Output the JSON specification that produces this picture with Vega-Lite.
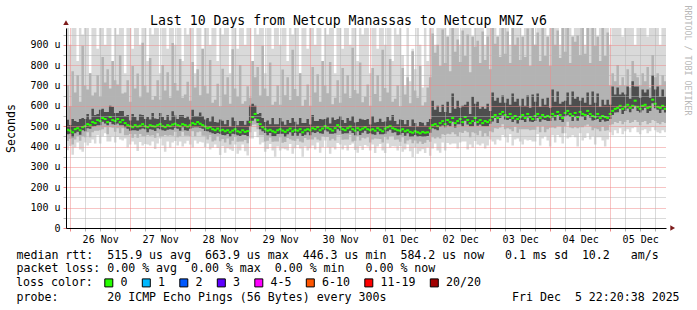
{
"$schema":"https://vega.github.io/schema/vega-lite/v6.json",
"width":600,"height":200,
"autosize":{"type":"none"},
"padding":{"left":66,"top":28,"right":31,"bottom":82},
"background":"#ffffff",
"config":{"view":{"stroke":null},"font":"DejaVu Sans Mono"},
"data":{"values":[
{"h":-2,"m":475,"a":390,"b":430,"c":457,"e":510,"u":625,"d":982},
{"h":-1,"m":482,"a":382,"b":427,"c":460,"e":532,"u":702,"d":982},
{"h":0,"m":478,"a":403,"b":438,"c":463,"e":506,"u":598,"d":900},
{"h":1,"m":470,"a":360,"b":410,"c":445,"e":535,"u":770,"d":982},
{"h":2,"m":485,"a":395,"b":435,"c":465,"e":525,"u":665,"d":982},
{"h":3,"m":490,"a":420,"b":452,"c":472,"e":520,"u":750,"d":820},
{"h":4,"m":480,"a":385,"b":428,"c":458,"e":535,"u":620,"d":982},
{"h":5,"m":495,"a":375,"b":450,"c":480,"e":540,"u":895,"d":950},
{"h":6,"m":500,"a":420,"b":445,"c":475,"e":535,"u":700,"d":982},
{"h":7,"m":510,"a":405,"b":470,"c":490,"e":560,"u":680,"d":982},
{"h":8,"m":505,"a":417,"b":445,"c":487,"e":533,"u":760,"d":760},
{"h":9,"m":520,"a":435,"b":470,"c":498,"e":585,"u":650,"d":982},
{"h":10,"m":515,"a":415,"b":477,"c":500,"e":555,"u":665,"d":982},
{"h":11,"m":530,"a":455,"b":478,"c":505,"e":560,"u":750,"d":880},
{"h":12,"m":525,"a":415,"b":480,"c":505,"e":580,"u":645,"d":982},
{"h":13,"m":540,"a":450,"b":485,"c":522,"e":585,"u":840,"d":982},
{"h":14,"m":535,"a":465,"b":495,"c":513,"e":570,"u":715,"d":900},
{"h":15,"m":520,"a":425,"b":460,"c":505,"e":570,"u":780,"d":982},
{"h":16,"m":545,"a":425,"b":495,"c":520,"e":600,"u":685,"d":982},
{"h":17,"m":530,"a":450,"b":492,"c":510,"e":595,"u":820,"d":820},
{"h":18,"m":525,"a":420,"b":473,"c":507,"e":565,"u":725,"d":982},
{"h":19,"m":535,"a":447,"b":490,"c":513,"e":565,"u":705,"d":950},
{"h":20,"m":520,"a":435,"b":465,"c":505,"e":575,"u":850,"d":982},
{"h":21,"m":530,"a":430,"b":490,"c":505,"e":575,"u":660,"d":982},
{"h":22,"m":515,"a":440,"b":455,"c":495,"e":550,"u":665,"d":760},
{"h":23,"m":505,"a":395,"b":455,"c":487,"e":555,"u":725,"d":982},
{"h":24,"m":500,"a":410,"b":462,"c":478,"e":528,"u":620,"d":982},
{"h":25,"m":495,"a":425,"b":443,"c":480,"e":560,"u":795,"d":880},
{"h":26,"m":505,"a":410,"b":460,"c":480,"e":545,"u":685,"d":982},
{"h":27,"m":498,"a":378,"b":443,"c":478,"e":528,"u":758,"d":982},
{"h":28,"m":502,"a":422,"b":462,"c":484,"e":557,"u":642,"d":900},
{"h":29,"m":510,"a":405,"b":450,"c":488,"e":555,"u":910,"d":982},
{"h":30,"m":500,"a":412,"b":450,"c":485,"e":535,"u":700,"d":982},
{"h":31,"m":495,"a":410,"b":457,"c":470,"e":545,"u":665,"d":820},
{"h":32,"m":505,"a":405,"b":453,"c":485,"e":533,"u":835,"d":982},
{"h":33,"m":500,"a":425,"b":455,"c":482,"e":565,"u":630,"d":950},
{"h":34,"m":498,"a":388,"b":443,"c":476,"e":538,"u":648,"d":982},
{"h":35,"m":505,"a":415,"b":465,"c":490,"e":535,"u":725,"d":982},
{"h":36,"m":510,"a":440,"b":450,"c":485,"e":565,"u":630,"d":760},
{"h":37,"m":500,"a":405,"b":450,"c":480,"e":545,"u":800,"d":982},
{"h":38,"m":495,"a":375,"b":457,"c":477,"e":530,"u":675,"d":982},
{"h":39,"m":505,"a":425,"b":453,"c":483,"e":555,"u":765,"d":880},
{"h":40,"m":500,"a":395,"b":455,"c":485,"e":528,"u":640,"d":982},
{"h":41,"m":508,"a":420,"b":453,"c":483,"e":573,"u":908,"d":982},
{"h":42,"m":512,"a":427,"b":472,"c":492,"e":552,"u":712,"d":900},
{"h":43,"m":505,"a":405,"b":445,"c":487,"e":535,"u":675,"d":982},
{"h":44,"m":500,"a":425,"b":450,"c":478,"e":555,"u":830,"d":982},
{"h":45,"m":510,"a":400,"b":472,"c":495,"e":555,"u":640,"d":820},
{"h":46,"m":505,"a":415,"b":453,"c":480,"e":540,"u":655,"d":982},
{"h":47,"m":498,"a":428,"b":453,"c":478,"e":548,"u":718,"d":950},
{"h":48,"m":505,"a":410,"b":450,"c":487,"e":533,"u":625,"d":982},
{"h":49,"m":515,"a":395,"b":475,"c":493,"e":580,"u":815,"d":982},
{"h":50,"m":510,"a":430,"b":450,"c":495,"e":550,"u":690,"d":760},
{"h":51,"m":520,"a":415,"b":470,"c":495,"e":550,"u":780,"d":982},
{"h":52,"m":512,"a":424,"b":474,"c":492,"e":567,"u":652,"d":982},
{"h":53,"m":505,"a":420,"b":453,"c":487,"e":550,"u":880,"d":880},
{"h":54,"m":498,"a":398,"b":453,"c":476,"e":533,"u":698,"d":982},
{"h":55,"m":490,"a":415,"b":435,"c":475,"e":540,"u":660,"d":982},
{"h":56,"m":495,"a":385,"b":455,"c":470,"e":523,"u":825,"d":900},
{"h":57,"m":485,"a":395,"b":425,"c":465,"e":550,"u":615,"d":982},
{"h":58,"m":480,"a":410,"b":430,"c":462,"e":520,"u":630,"d":982},
{"h":59,"m":488,"a":393,"b":450,"c":466,"e":518,"u":708,"d":820},
{"h":60,"m":478,"a":358,"b":426,"c":463,"e":533,"u":598,"d":982},
{"h":61,"m":482,"a":402,"b":437,"c":457,"e":527,"u":782,"d":950},
{"h":62,"m":475,"a":370,"b":420,"c":455,"e":510,"u":655,"d":982},
{"h":63,"m":480,"a":392,"b":440,"c":462,"e":530,"u":740,"d":982},
{"h":64,"m":470,"a":385,"b":410,"c":448,"e":498,"u":610,"d":760},
{"h":65,"m":478,"a":378,"b":428,"c":463,"e":543,"u":878,"d":982},
{"h":66,"m":485,"a":410,"b":447,"c":460,"e":525,"u":685,"d":982},
{"h":67,"m":475,"a":365,"b":423,"c":455,"e":505,"u":645,"d":880},
{"h":68,"m":470,"a":380,"b":425,"c":452,"e":525,"u":800,"d":982},
{"h":69,"m":480,"a":410,"b":425,"c":458,"e":525,"u":610,"d":982},
{"h":70,"m":472,"a":377,"b":432,"c":457,"e":507,"u":622,"d":900},
{"h":71,"m":476,"a":356,"b":416,"c":451,"e":526,"u":696,"d":982},
{"h":72,"m":520,"a":440,"b":470,"c":500,"e":600,"u":640,"d":982},
{"h":73,"m":545,"a":440,"b":507,"c":527,"e":610,"u":820,"d":820},
{"h":74,"m":560,"a":472,"b":508,"c":538,"e":600,"u":740,"d":982},
{"h":75,"m":530,"a":445,"b":485,"c":515,"e":560,"u":790,"d":950},
{"h":76,"m":510,"a":410,"b":455,"c":485,"e":565,"u":650,"d":982},
{"h":77,"m":495,"a":420,"b":455,"c":475,"e":540,"u":895,"d":982},
{"h":78,"m":485,"a":375,"b":425,"c":467,"e":520,"u":685,"d":760},
{"h":79,"m":478,"a":388,"b":428,"c":456,"e":528,"u":648,"d":982},
{"h":80,"m":482,"a":412,"b":444,"c":467,"e":510,"u":812,"d":982},
{"h":81,"m":475,"a":380,"b":423,"c":450,"e":540,"u":605,"d":880},
{"h":82,"m":470,"a":350,"b":425,"c":450,"e":510,"u":620,"d":982},
{"h":83,"m":480,"a":400,"b":425,"c":462,"e":510,"u":700,"d":982},
{"h":84,"m":485,"a":380,"b":445,"c":463,"e":540,"u":605,"d":900},
{"h":85,"m":478,"a":390,"b":418,"c":463,"e":523,"u":778,"d":982},
{"h":86,"m":472,"a":387,"b":422,"c":447,"e":507,"u":652,"d":982},
{"h":87,"m":480,"a":380,"b":442,"c":460,"e":530,"u":740,"d":820},
{"h":88,"m":488,"a":413,"b":436,"c":470,"e":516,"u":628,"d":982},
{"h":89,"m":475,"a":365,"b":430,"c":453,"e":540,"u":875,"d":950},
{"h":90,"m":482,"a":392,"b":427,"c":467,"e":522,"u":682,"d":982},
{"h":91,"m":478,"a":408,"b":438,"c":453,"e":508,"u":648,"d":982},
{"h":92,"m":485,"a":390,"b":425,"c":465,"e":540,"u":760,"d":760},
{"h":93,"m":470,"a":350,"b":420,"c":452,"e":515,"u":600,"d":982},
{"h":94,"m":480,"a":400,"b":442,"c":458,"e":515,"u":630,"d":982},
{"h":95,"m":485,"a":380,"b":433,"c":470,"e":535,"u":705,"d":880},
{"h":96,"m":480,"a":392,"b":435,"c":455,"e":508,"u":600,"d":982},
{"h":97,"m":490,"a":405,"b":435,"c":470,"e":555,"u":790,"d":982},
{"h":98,"m":485,"a":385,"b":445,"c":467,"e":525,"u":665,"d":900},
{"h":99,"m":495,"a":420,"b":435,"c":473,"e":525,"u":755,"d":982},
{"h":100,"m":480,"a":370,"b":430,"c":465,"e":535,"u":620,"d":982},
{"h":101,"m":488,"a":398,"b":450,"c":463,"e":533,"u":820,"d":820},
{"h":102,"m":500,"a":430,"b":448,"c":480,"e":535,"u":700,"d":982},
{"h":103,"m":492,"a":397,"b":447,"c":474,"e":542,"u":662,"d":950},
{"h":104,"m":485,"a":365,"b":430,"c":463,"e":513,"u":815,"d":982},
{"h":105,"m":478,"a":398,"b":438,"c":463,"e":543,"u":608,"d":982},
{"h":106,"m":490,"a":385,"b":430,"c":465,"e":530,"u":640,"d":760},
{"h":107,"m":505,"a":417,"b":455,"c":485,"e":535,"u":725,"d":982},
{"h":108,"m":495,"a":410,"b":457,"c":477,"e":550,"u":615,"d":982},
{"h":109,"m":485,"a":385,"b":433,"c":463,"e":530,"u":785,"d":880},
{"h":110,"m":480,"a":405,"b":435,"c":465,"e":515,"u":660,"d":982},
{"h":111,"m":490,"a":380,"b":435,"c":465,"e":540,"u":750,"d":982},
{"h":112,"m":498,"a":408,"b":458,"c":478,"e":526,"u":638,"d":900},
{"h":113,"m":485,"a":415,"b":425,"c":467,"e":550,"u":885,"d":982},
{"h":114,"m":478,"a":383,"b":428,"c":456,"e":518,"u":678,"d":982},
{"h":115,"m":490,"a":370,"b":452,"c":475,"e":520,"u":660,"d":820},
{"h":116,"m":482,"a":402,"b":430,"c":457,"e":537,"u":812,"d":982},
{"h":117,"m":488,"a":383,"b":443,"c":468,"e":533,"u":618,"d":950},
{"h":118,"m":495,"a":407,"b":440,"c":477,"e":530,"u":645,"d":982},
{"h":119,"m":485,"a":400,"b":445,"c":463,"e":535,"u":705,"d":982},
{"h":120,"m":480,"a":380,"b":420,"c":465,"e":508,"u":600,"d":760},
{"h":121,"m":485,"a":410,"b":435,"c":460,"e":550,"u":785,"d":982},
{"h":122,"m":478,"a":368,"b":440,"c":458,"e":518,"u":658,"d":982},
{"h":123,"m":490,"a":400,"b":438,"c":472,"e":520,"u":750,"d":880},
{"h":124,"m":482,"a":412,"b":437,"c":460,"e":537,"u":622,"d":982},
{"h":125,"m":475,"a":380,"b":420,"c":460,"e":520,"u":875,"d":982},
{"h":126,"m":488,"a":368,"b":448,"c":463,"e":523,"u":688,"d":900},
{"h":127,"m":495,"a":415,"b":435,"c":475,"e":545,"u":665,"d":982},
{"h":128,"m":500,"a":395,"b":450,"c":482,"e":528,"u":830,"d":982},
{"h":129,"m":490,"a":402,"b":452,"c":468,"e":555,"u":620,"d":820},
{"h":130,"m":485,"a":400,"b":433,"c":470,"e":525,"u":635,"d":982},
{"h":131,"m":480,"a":380,"b":435,"c":455,"e":510,"u":700,"d":950},
{"h":132,"m":478,"a":403,"b":423,"c":458,"e":533,"u":598,"d":982},
{"h":133,"m":485,"a":375,"b":445,"c":467,"e":530,"u":785,"d":850},
{"h":134,"m":475,"a":385,"b":415,"c":453,"e":510,"u":655,"d":700},
{"h":135,"m":480,"a":410,"b":430,"c":465,"e":530,"u":740,"d":982},
{"h":136,"m":472,"a":377,"b":434,"c":447,"e":500,"u":612,"d":720},
{"h":137,"m":468,"a":348,"b":416,"c":448,"e":533,"u":868,"d":880},
{"h":138,"m":475,"a":395,"b":430,"c":457,"e":515,"u":675,"d":780},
{"h":139,"m":470,"a":365,"b":415,"c":448,"e":500,"u":640,"d":982},
{"h":140,"m":465,"a":377,"b":425,"c":450,"e":520,"u":795,"d":900},
{"h":141,"m":472,"a":387,"b":412,"c":447,"e":517,"u":602,"d":690},
{"h":142,"m":468,"a":368,"b":418,"c":448,"e":503,"u":618,"d":982},
{"h":143,"m":470,"a":395,"b":432,"c":452,"e":520,"u":690,"d":820},
{"h":144,"m":490,"a":355,"b":423,"c":468,"e":535,"u":740,"d":982},
{"h":145,"m":505,"a":390,"b":445,"c":490,"e":625,"u":955,"d":982},
{"h":146,"m":510,"a":415,"b":440,"c":485,"e":580,"u":860,"d":900},
{"h":147,"m":500,"a":380,"b":445,"c":480,"e":600,"u":900,"d":982},
{"h":148,"m":515,"a":370,"b":440,"c":497,"e":570,"u":795,"d":982},
{"h":149,"m":525,"a":420,"b":460,"c":503,"e":605,"u":975,"d":982},
{"h":150,"m":510,"a":380,"b":457,"c":495,"e":570,"u":810,"d":982},
{"h":151,"m":530,"a":417,"b":463,"c":505,"e":620,"u":940,"d":940},
{"h":152,"m":520,"a":410,"b":460,"c":500,"e":565,"u":770,"d":982},
{"h":153,"m":540,"a":415,"b":470,"c":522,"e":660,"u":982,"d":982},
{"h":154,"m":515,"a":415,"b":460,"c":493,"e":585,"u":865,"d":982},
{"h":155,"m":525,"a":390,"b":450,"c":510,"e":625,"u":925,"d":982},
{"h":156,"m":535,"a":420,"b":470,"c":510,"e":590,"u":815,"d":900},
{"h":157,"m":520,"a":425,"b":467,"c":500,"e":600,"u":970,"d":982},
{"h":158,"m":545,"a":425,"b":478,"c":527,"e":605,"u":845,"d":982},
{"h":159,"m":530,"a":385,"b":470,"c":508,"e":620,"u":950,"d":982},
{"h":160,"m":515,"a":410,"b":445,"c":500,"e":560,"u":765,"d":982},
{"h":161,"m":525,"a":395,"b":470,"c":500,"e":645,"u":940,"d":940},
{"h":162,"m":540,"a":427,"b":465,"c":520,"e":610,"u":890,"d":982},
{"h":163,"m":520,"a":410,"b":455,"c":502,"e":620,"u":920,"d":982},
{"h":164,"m":530,"a":405,"b":477,"c":508,"e":585,"u":810,"d":982},
{"h":165,"m":515,"a":415,"b":448,"c":500,"e":595,"u":965,"d":982},
{"h":166,"m":525,"a":390,"b":465,"c":500,"e":585,"u":825,"d":900},
{"h":167,"m":520,"a":405,"b":450,"c":500,"e":610,"u":940,"d":982},
{"h":168,"m":530,"a":435,"b":475,"c":512,"e":575,"u":780,"d":982},
{"h":169,"m":545,"a":425,"b":470,"c":523,"e":665,"u":982,"d":982},
{"h":170,"m":555,"a":410,"b":490,"c":540,"e":625,"u":905,"d":982},
{"h":171,"m":540,"a":435,"b":487,"c":515,"e":640,"u":940,"d":940},
{"h":172,"m":560,"a":430,"b":493,"c":540,"e":615,"u":840,"d":982},
{"h":173,"m":570,"a":457,"b":510,"c":552,"e":650,"u":982,"d":982},
{"h":174,"m":555,"a":445,"b":485,"c":533,"e":615,"u":855,"d":982},
{"h":175,"m":545,"a":420,"b":490,"c":530,"e":635,"u":965,"d":982},
{"h":176,"m":560,"a":460,"b":485,"c":535,"e":605,"u":810,"d":900},
{"h":177,"m":540,"a":405,"b":475,"c":520,"e":660,"u":982,"d":982},
{"h":178,"m":550,"a":435,"b":497,"c":532,"e":620,"u":900,"d":982},
{"h":179,"m":535,"a":440,"b":468,"c":513,"e":635,"u":935,"d":982},
{"h":180,"m":545,"a":425,"b":485,"c":530,"e":600,"u":825,"d":982},
{"h":181,"m":555,"a":410,"b":485,"c":530,"e":635,"u":940,"d":940},
{"h":182,"m":540,"a":435,"b":485,"c":520,"e":600,"u":840,"d":982},
{"h":183,"m":560,"a":430,"b":485,"c":542,"e":650,"u":980,"d":982},
{"h":184,"m":545,"a":432,"b":480,"c":523,"e":590,"u":795,"d":982},
{"h":185,"m":535,"a":425,"b":482,"c":520,"e":655,"u":982,"d":982},
{"h":186,"m":550,"a":425,"b":483,"c":525,"e":620,"u":900,"d":900},
{"h":187,"m":560,"a":460,"b":500,"c":540,"e":660,"u":960,"d":982},
{"h":188,"m":540,"a":405,"b":470,"c":522,"e":595,"u":820,"d":982},
{"h":189,"m":555,"a":440,"b":500,"c":533,"e":635,"u":982,"d":982},
{"h":190,"m":545,"a":450,"b":470,"c":530,"e":605,"u":845,"d":982},
{"h":191,"m":550,"a":430,"b":485,"c":525,"e":640,"u":940,"d":940},
{"h":192,"m":545,"a":400,"b":492,"c":525,"e":590,"u":795,"d":982},
{"h":193,"m":560,"a":455,"b":493,"c":542,"e":680,"u":982,"d":982},
{"h":194,"m":550,"a":420,"b":490,"c":528,"e":620,"u":900,"d":982},
{"h":195,"m":570,"a":457,"b":500,"c":555,"e":670,"u":970,"d":982},
{"h":196,"m":555,"a":445,"b":500,"c":530,"e":610,"u":835,"d":900},
{"h":197,"m":540,"a":415,"b":465,"c":520,"e":620,"u":982,"d":982},
{"h":198,"m":565,"a":465,"b":500,"c":547,"e":625,"u":865,"d":982},
{"h":199,"m":575,"a":440,"b":522,"c":553,"e":665,"u":982,"d":982},
{"h":200,"m":560,"a":445,"b":493,"c":545,"e":605,"u":810,"d":982},
{"h":201,"m":550,"a":455,"b":490,"c":525,"e":670,"u":940,"d":940},
{"h":202,"m":565,"a":445,"b":495,"c":545,"e":635,"u":915,"d":982},
{"h":203,"m":545,"a":400,"b":490,"c":527,"e":645,"u":945,"d":982},
{"h":204,"m":570,"a":465,"b":495,"c":548,"e":625,"u":850,"d":982},
{"h":205,"m":560,"a":430,"b":495,"c":545,"e":640,"u":982,"d":982},
{"h":206,"m":555,"a":442,"b":502,"c":530,"e":615,"u":855,"d":900},
{"h":207,"m":575,"a":465,"b":508,"c":555,"e":665,"u":982,"d":982},
{"h":208,"m":560,"a":435,"b":500,"c":542,"e":605,"u":810,"d":982},
{"h":209,"m":550,"a":450,"b":480,"c":528,"e":670,"u":982,"d":982},
{"h":210,"m":545,"a":410,"b":490,"c":530,"e":615,"u":895,"d":982},
{"h":211,"m":560,"a":445,"b":485,"c":535,"e":660,"u":940,"d":940},
{"h":212,"m":540,"a":445,"b":475,"c":520,"e":595,"u":820,"d":982},
{"h":213,"m":550,"a":430,"b":497,"c":532,"e":630,"u":982,"d":982},
{"h":214,"m":545,"a":400,"b":478,"c":523,"e":605,"u":845,"d":982},
{"h":215,"m":540,"a":435,"b":480,"c":525,"e":630,"u":960,"d":982},
{"h":216,"m":560,"a":470,"b":505,"c":535,"e":605,"u":700,"d":900},
{"h":217,"m":575,"a":455,"b":510,"c":555,"e":695,"u":760,"d":982},
{"h":218,"m":585,"a":480,"b":520,"c":567,"e":655,"u":720,"d":982},
{"h":219,"m":590,"a":465,"b":515,"c":568,"e":690,"u":800,"d":982},
{"h":220,"m":600,"a":490,"b":525,"c":585,"e":655,"u":700,"d":982},
{"h":221,"m":585,"a":460,"b":510,"c":560,"e":665,"u":740,"d":940},
{"h":222,"m":595,"a":475,"b":520,"c":575,"e":655,"u":700,"d":982},
{"h":223,"m":605,"a":485,"b":530,"c":587,"e":695,"u":780,"d":982},
{"h":224,"m":590,"a":470,"b":515,"c":568,"e":635,"u":690,"d":982},
{"h":225,"m":600,"a":490,"b":520,"c":585,"e":720,"u":820,"d":982},
{"h":226,"m":625,"a":495,"b":530,"c":600,"e":695,"u":760,"d":900},
{"h":227,"m":595,"a":470,"b":520,"c":575,"e":695,"u":740,"d":982},
{"h":228,"m":585,"a":460,"b":505,"c":567,"e":640,"u":700,"d":982},
{"h":229,"m":600,"a":480,"b":520,"c":578,"e":680,"u":760,"d":982},
{"h":230,"m":605,"a":485,"b":525,"c":590,"e":665,"u":720,"d":982},
{"h":231,"m":590,"a":465,"b":510,"c":565,"e":680,"u":790,"d":940},
{"h":232,"m":595,"a":475,"b":515,"c":575,"e":640,"u":690,"d":982},
{"h":233,"m":630,"a":495,"b":530,"c":612,"e":750,"u":850,"d":982},
{"h":234,"m":610,"a":480,"b":525,"c":588,"e":680,"u":740,"d":982},
{"h":235,"m":595,"a":470,"b":515,"c":580,"e":695,"u":760,"d":982},
{"h":236,"m":590,"a":465,"b":510,"c":565,"e":645,"u":700,"d":900},
{"h":237,"m":600,"a":480,"b":520,"c":580,"e":680,"u":750,"d":982},
{"h":238,"m":585,"a":470,"b":515,"c":567,"e":645,"u":720,"d":982},
{"h":239,"m":584,"a":470,"b":515,"c":562,"e":674,"u":760,"d":982}
]},
"resolve":{"axis":{"x":"independent","y":"independent"}},
"layer":[
{"mark":{"type":"area","interpolate":"step","color":"#d9d9d9","clip":true},
 "encoding":{
  "x":{"field":"h","type":"quantitative","scale":{"domain":[-1.67,238.33],"nice":false,"zero":false},
   "axis":{"values":[0,6,12,18,24,30,36,42,48,54,60,66,72,78,84,90,96,102,108,114,120,126,132,138,144,150,156,162,168,174,180,186,192,198,204,210,216,222,228,234],
    "labelExpr":"datum.value % 24 == 12 ? (datum.value < 120 ? (26 + floor(datum.value / 24)) + ' Nov' : '0' + (floor(datum.value / 24) - 4) + ' Dec') : ''",
    "labelFont":"DejaVu Sans Mono","labelFontSize":10,"labelColor":"#000000","labelPadding":3,"labelOverlap":false,"labelBound":false,"labelFlush":false,
    "tickSize":3,"tickColor":{"condition":{"test":"datum.value % 24 == 0","value":"#ee8888"},"value":"#b4b4b4"},
    "grid":true,"gridColor":{"condition":{"test":"datum.value % 24 == 0","value":"#ee8888"},"value":"#b4b4b4"},"gridDash":[1,1],"gridOpacity":1,"gridWidth":1,
    "domainColor":"#000000","domainWidth":1,"title":null,"zindex":2}},
  "y":{"field":"a","type":"quantitative","scale":{"domain":[0,982],"nice":false,"zero":false},
   "axis":{"values":[0,50,100,150,200,250,300,350,400,450,500,550,600,650,700,750,800,850,900,950],
    "labelExpr":"datum.value % 100 == 0 ? (datum.value == 0 ? '0\u00a0\u00a0' : datum.value + ' u') : ''",
    "labelFont":"DejaVu Sans Mono","labelFontSize":10,"labelColor":"#000000","labelPadding":3,"labelOverlap":false,"labelBound":false,"labelFlush":false,
    "tickSize":3,"tickColor":{"condition":{"test":"datum.value % 100 == 0","value":"#ee8888"},"value":"#b4b4b4"},
    "grid":true,"gridColor":{"condition":{"test":"datum.value % 100 == 0","value":"#ee8888"},"value":"#b4b4b4"},"gridDash":[1,1],"gridOpacity":1,"gridWidth":1,
    "domainColor":"#000000","domainWidth":1,
    "title":"Seconds","titleFont":"DejaVu Sans Mono","titleFontSize":11.6,"titleFontWeight":"normal","titleColor":"#000000","titleAngle":270,"titleAlign":"center","titleBaseline":"middle","titleX":-55,"titleY":100,
    "zindex":1}},
  "y2":{"field":"d"}}},
{"mark":{"type":"area","interpolate":"step","color":"#b3b3b3","clip":true},
 "encoding":{
  "x":{"field":"h","type":"quantitative","scale":{"domain":[-1.67,238.33],"nice":false,"zero":false},
   "axis":{"orient":"bottom","labels":false,"ticks":false,"domain":false,"grid":false,
    "title":"median rtt: \u00a0515.9 us avg \u00a0663.9 us max \u00a0446.3 us min \u00a0584.2 us now \u00a0\u00a00.1 ms sd \u00a010.2 \u00a0\u00a0am/s",
    "titleFont":"DejaVu Sans Mono","titleFontSize":11.6,"titleFontWeight":"normal","titleColor":"#000000","titleAlign":"left","titleBaseline":"middle","titleX":-50,"titleY":27,"titleLimit":1000}},
  "y":{"field":"b","type":"quantitative","scale":{"domain":[0,982],"nice":false,"zero":false},"axis":null},
  "y2":{"field":"u"}}},
{"mark":{"type":"area","interpolate":"step","color":"#4e4e4e","clip":true},
 "encoding":{
  "x":{"field":"h","type":"quantitative","scale":{"domain":[-1.67,238.33],"nice":false,"zero":false},
   "axis":{"orient":"bottom","labels":false,"ticks":false,"domain":false,"grid":false,
    "title":"packet loss: 0.00 % avg \u00a00.00 % max \u00a00.00 % min \u00a0\u00a00.00 % now",
    "titleFont":"DejaVu Sans Mono","titleFontSize":11.6,"titleFontWeight":"normal","titleColor":"#000000","titleAlign":"left","titleBaseline":"middle","titleX":-50,"titleY":40.5,"titleLimit":1000}},
  "y":{"field":"c","type":"quantitative","scale":{"domain":[0,982],"nice":false,"zero":false},"axis":null},
  "y2":{"field":"e"}}},
{"mark":{"type":"tick","orient":"horizontal","thickness":2,"size":3,"clip":true,"opacity":1},
 "encoding":{
  "x":{"field":"h","type":"quantitative","scale":{"domain":[-1.67,238.33],"nice":false,"zero":false},
   "axis":{"orient":"bottom","labels":false,"ticks":false,"domain":false,"grid":false,
    "title":"probe: \u00a0\u00a0\u00a0\u00a0\u00a0\u00a020 ICMP Echo Pings (56 Bytes) every 300s \u00a0\u00a0\u00a0\u00a0\u00a0\u00a0\u00a0\u00a0\u00a0\u00a0\u00a0\u00a0\u00a0\u00a0\u00a0\u00a0\u00a0Fri Dec \u00a05 22:20:38 2025",
    "titleFont":"DejaVu Sans Mono","titleFontSize":11.6,"titleFontWeight":"normal","titleColor":"#000000","titleAlign":"left","titleBaseline":"middle","titleX":-50,"titleY":69,"titleLimit":1000}},
  "y":{"field":"m","type":"quantitative","scale":{"domain":[0,982],"nice":false,"zero":false},
   "axis":{"orient":"right","labels":false,"ticks":false,"domain":false,"grid":false,"title":"RRDTOOL / TOBI OETIKER","titleAngle":90,"titleX":20.5,"titleY":32,"titleAlign":"center","titleBaseline":"middle","titleFont":"DejaVu Sans Mono","titleFontSize":8.3,"titleFontWeight":"normal","titleColor":"#b8b8b8"}},
  "color":{"datum":"0","type":"nominal",
   "scale":{"domain":["0","1","2","3","4-5","6-10","11-19","20/20"],"range":["#26ff00","#00b8ff","#0059ff","#5e00ff","#ff00ff","#ff5500","#ff0000","#a10000"]},
   "legend":{"orient":"none","legendX":-50,"legendY":249,"direction":"horizontal","columns":8,"title":"loss color:","titleOrient":"left","titleFont":"DejaVu Sans Mono","titleFontSize":11.6,"titleFontWeight":"normal","titleColor":"#000000","titlePadding":10,
    "symbolType":"square","symbolSize":64,"symbolStrokeColor":"#000000","symbolStrokeWidth":1,"symbolOpacity":1,"symbolOffset":0,
    "labelFont":"DejaVu Sans Mono","labelFontSize":11.6,"labelColor":"#000000","labelOffset":6,"columnPadding":11.5,"padding":0}}}},
{"data":{"values":[{}]},
 "mark":{"type":"point","shape":"triangle-right","filled":true,"size":30,"color":"#7d1b1b","opacity":1},
 "encoding":{
  "x":{"datum":241,"type":"quantitative","scale":{"domain":[-1.67,238.33],"nice":false,"zero":false},
   "axis":{"orient":"top","labels":false,"ticks":false,"domain":false,"grid":false,
    "title":"Last 10 Days from Netcup Manassas to Netcup MNZ v6",
    "titleFont":"DejaVu Sans Mono","titleFontSize":13.2,"titleFontWeight":"normal","titleColor":"#000000","titleAlign":"center","titleBaseline":"alphabetic","titleX":282,"titleY":-4,"titleLimit":1000}},
  "y":{"datum":0,"type":"quantitative","scale":{"domain":[0,982],"nice":false,"zero":false},"axis":null}}},
{"data":{"values":[{}]},
 "mark":{"type":"point","shape":"triangle-up","filled":true,"size":30,"color":"#7d1b1b","opacity":1},
 "encoding":{
  "x":{"datum":-1.67,"type":"quantitative","scale":{"domain":[-1.67,238.33],"nice":false,"zero":false},"axis":null},
  "y":{"datum":1008,"type":"quantitative","scale":{"domain":[0,982],"nice":false,"zero":false},"axis":null}}}
]
}
